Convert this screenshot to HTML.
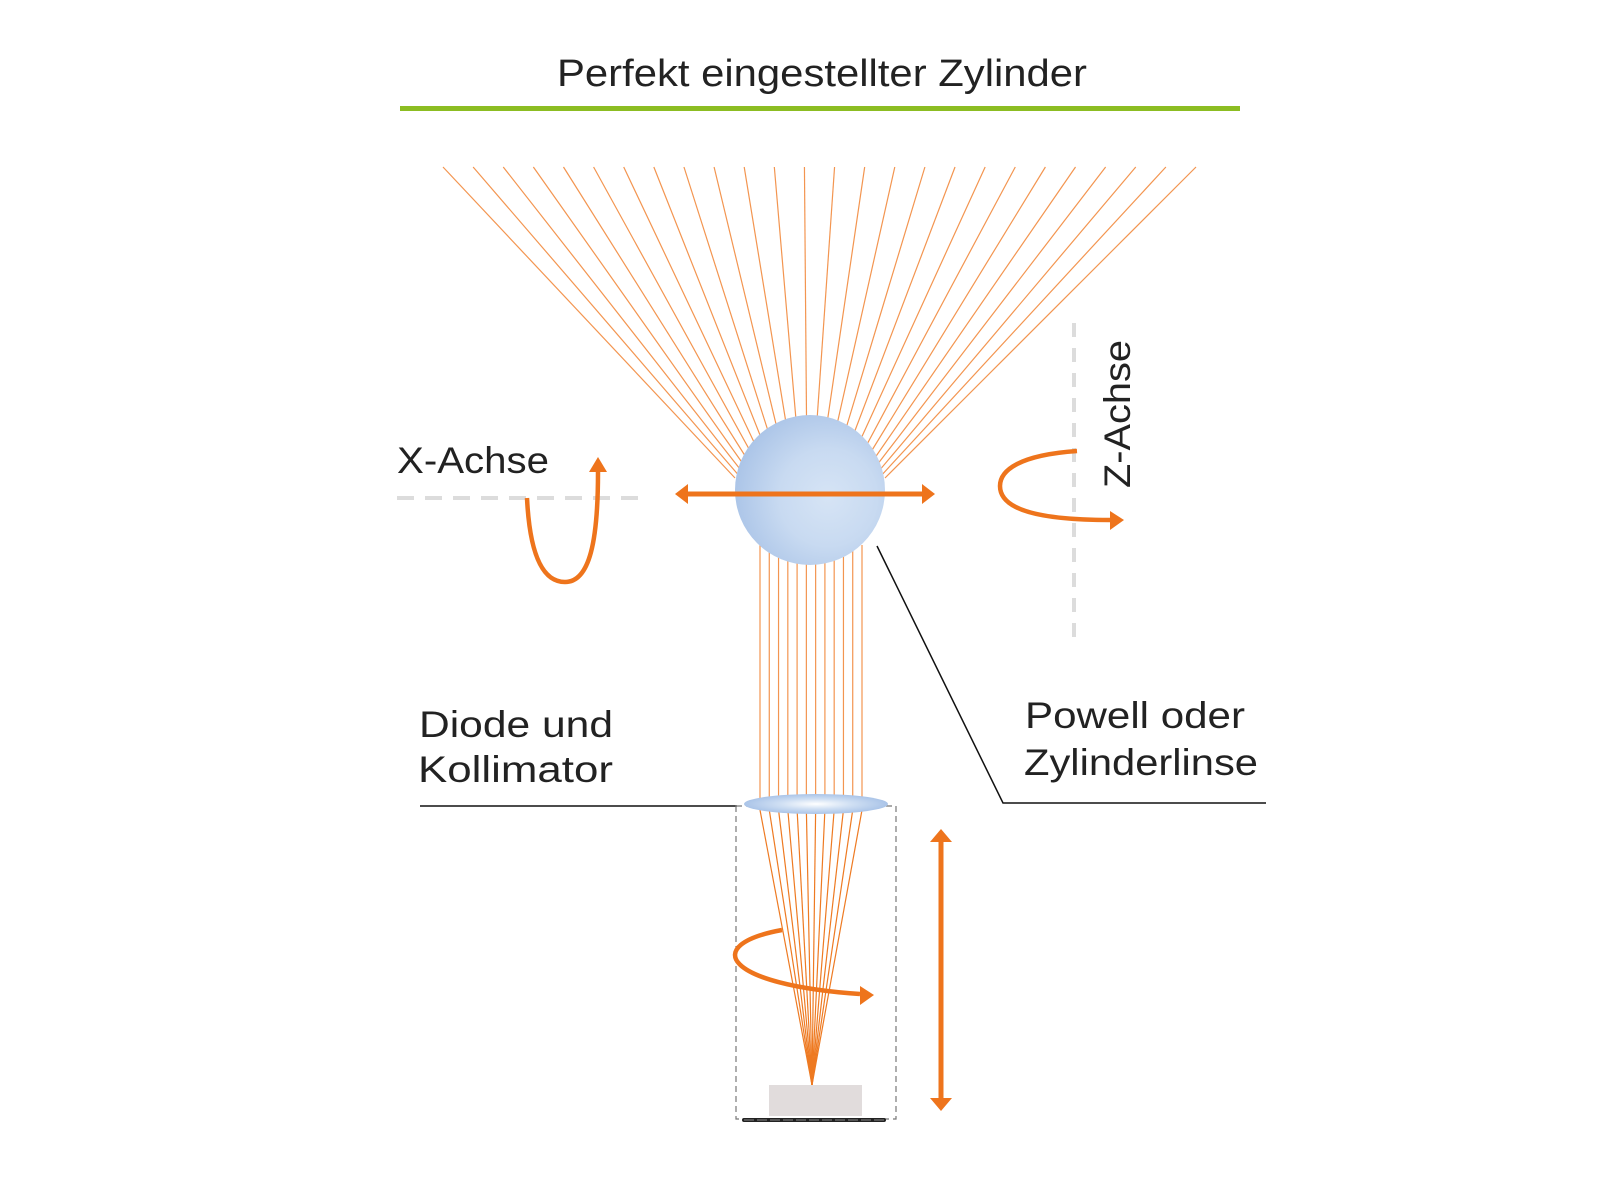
<!DOCTYPE html>
<html><head><meta charset="utf-8"><style>
html,body{margin:0;padding:0;background:#fff;}
svg{display:block;}
text{font-family:"Liberation Sans",sans-serif;fill:#222;}
</style></head><body>
<svg width="1600" height="1200" viewBox="0 0 1600 1200" xmlns="http://www.w3.org/2000/svg">
<defs>
<radialGradient id="sph" cx="0.62" cy="0.55" r="0.65">
<stop offset="0" stop-color="#d6e4f5"/>
<stop offset="0.5" stop-color="#c8daf1"/>
<stop offset="1" stop-color="#a9c3e7"/>
</radialGradient>
<radialGradient id="lens" cx="0.5" cy="0.5" r="0.5">
<stop offset="0" stop-color="#ffffff"/>
<stop offset="0.5" stop-color="#cfdff3"/>
<stop offset="1" stop-color="#aac4e8"/>
</radialGradient>
</defs>
<text x="557" y="86" font-size="38" textLength="530" lengthAdjust="spacingAndGlyphs">Perfekt eingestellter Zylinder</text>
<rect x="400" y="106" width="840" height="5" fill="#8cbd22"/>
<g stroke="#f39550" stroke-width="1.2" id="fan"></g>
<g stroke="#f39550" stroke-width="1.2" id="vert"></g>
<g stroke="#ee7a22" stroke-width="1.2" id="cone"></g>
<circle cx="810" cy="490" r="75" fill="url(#sph)"/>
<line x1="688" y1="494" x2="922" y2="494" stroke="#ee741c" stroke-width="5"/>
<polygon points="675,494 688,484 688,504" fill="#ee741c"/>
<polygon points="935,494 922,484 922,504" fill="#ee741c"/>
<polyline points="877,546 1003,803 1266,803" fill="none" stroke="#111" stroke-width="1.5"/>
<line x1="420" y1="806" x2="737" y2="806" stroke="#111" stroke-width="1.5"/>
<rect x="736" y="806" width="160" height="313" fill="none" stroke="#777" stroke-width="1.2" stroke-dasharray="6,4"/>
<ellipse cx="816" cy="804" rx="72" ry="10" fill="url(#lens)"/>
<rect x="769" y="1085" width="93" height="31" fill="#e1dcdc"/>
<line x1="744" y1="1120" x2="884" y2="1120" stroke="#222" stroke-width="4" stroke-linecap="round"/>
<line x1="744" y1="1120" x2="884" y2="1120" stroke="#888" stroke-width="1" stroke-dasharray="10,3"/>
<path d="M782,930 C700,945 725,985 860,994" fill="none" stroke="#ee741c" stroke-width="4.5"/>
<polygon points="874,995 860,986 860,1005" fill="#ee741c"/>
<line x1="941" y1="842" x2="941" y2="1098" stroke="#ee741c" stroke-width="5"/>
<polygon points="941,829 930,842 952,842" fill="#ee741c"/>
<polygon points="941,1111 930,1098 952,1098" fill="#ee741c"/>
<text x="397" y="473" font-size="37" textLength="152" lengthAdjust="spacingAndGlyphs">X-Achse</text>
<line x1="397" y1="498" x2="645" y2="498" stroke="#dcdcdc" stroke-width="4" stroke-dasharray="17,11"/>
<path d="M527,498 C530,560 545,582 565,582 C590,582 598,540 598,472" fill="none" stroke="#ee741c" stroke-width="4.5"/>
<polygon points="598,457 589,472 607,472" fill="#ee741c"/>
<line x1="1074" y1="323" x2="1074" y2="648" stroke="#dcdcdc" stroke-width="4" stroke-dasharray="14,11"/>
<text transform="translate(1130,488) rotate(-90)" font-size="37" textLength="148" lengthAdjust="spacingAndGlyphs">Z-Achse</text>
<path d="M1077,451 C1020,455 1000,470 1000,486 C1000,510 1040,520 1110,520" fill="none" stroke="#ee741c" stroke-width="4.5"/>
<polygon points="1124,520 1110,511 1110,530" fill="#ee741c"/>
<text x="419" y="737" font-size="37" textLength="194" lengthAdjust="spacingAndGlyphs">Diode und</text>
<text x="418" y="782" font-size="37" textLength="195" lengthAdjust="spacingAndGlyphs">Kollimator</text>
<text x="1025" y="728" font-size="37" textLength="220" lengthAdjust="spacingAndGlyphs">Powell oder</text>
<text x="1024" y="775" font-size="37" textLength="234" lengthAdjust="spacingAndGlyphs">Zylinderlinse</text>
</svg>
<script>
var ns="http://www.w3.org/2000/svg";
function L(g,x1,y1,x2,y2){var l=document.createElementNS(ns,"line");l.setAttribute("x1",x1);l.setAttribute("y1",y1);l.setAttribute("x2",x2);l.setAttribute("y2",y2);document.getElementById(g).appendChild(l);}
for(var i=0;i<26;i++){var xt=443+i*(1196-443)/25;var xb=735+i*(885-735)/25;L("fan",xt,167,xb,478);}
for(var i=0;i<12;i++){var x=760+i*(862-760)/11;L("vert",x,545,x,800);L("cone",x,810,812,1085);}
</script>
</body></html>
